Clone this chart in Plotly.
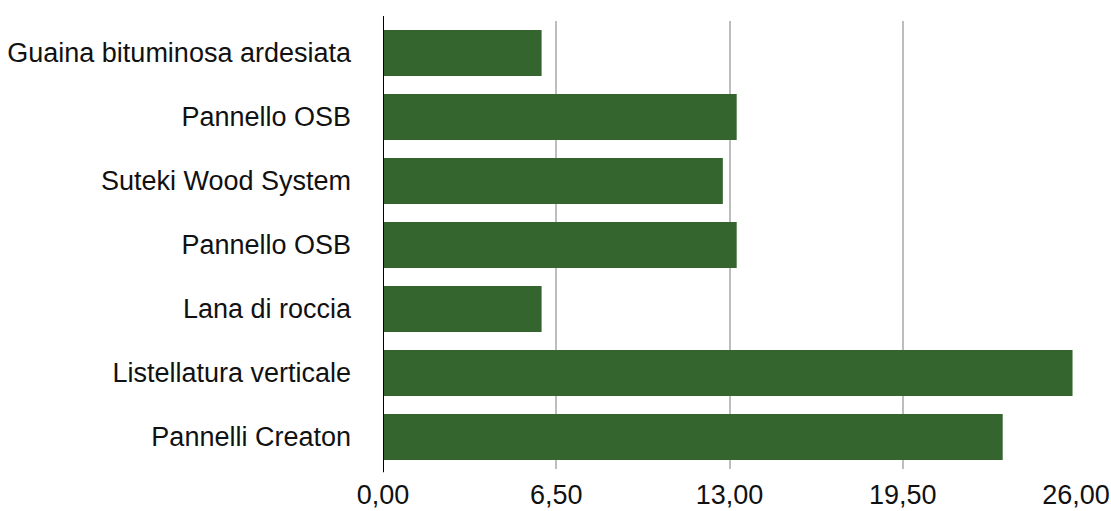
import plotly.graph_objects as go

categories = ["Guaina bituminosa ardesiata", "Pannello OSB", "Suteki Wood System",
              "Pannello OSB", "Lana di roccia", "Listellatura verticale", "Pannelli Creaton"]
values = [5.95, 13.27, 12.75, 13.27, 5.95, 25.87, 23.25]
x_ticks = [0, 6.5, 13, 19.5, 26]

positions = list(range(len(categories)))

fig = go.Figure()
fig.add_trace(go.Bar(
    x=values, y=positions, orientation="h",
    marker=dict(color="#35652e", line=dict(width=0)),
    width=0.72, hoverinfo="x+text", text=categories, textposition="none",
))

fig.update_layout(
    width=1111, height=511,
    margin=dict(l=383, r=35, t=21, b=42),
    paper_bgcolor="white", plot_bgcolor="white",
    separators=",.",
    font=dict(family="Liberation Sans, Arial, sans-serif", size=27, color="#111111"),
    showlegend=False,
    xaxis=dict(
        range=[0, 26], tickvals=x_ticks, tickformat=".2f",
        showgrid=True, gridcolor="#bdbdbd", gridwidth=2,
        zeroline=False, showline=False, ticks="", ticklabelstandoff=7,
        automargin=False,
    ),
    yaxis=dict(
        range=[6.5, -0.5], tickvals=positions, ticktext=categories,
        showgrid=False, zeroline=False, showline=False, ticks="",
        ticklabelstandoff=31, automargin=False,
    ),
    shapes=[dict(type="line", xref="x", yref="paper", x0=0, x1=0, y0=-0.007, y1=1.011,
                 line=dict(color="black", width=2))],
)

fig.write_html(
    "out.html",
    config={"displayModeBar": False},
    post_script="document.body.style.margin='0';document.body.style.overflow='hidden';",
)
